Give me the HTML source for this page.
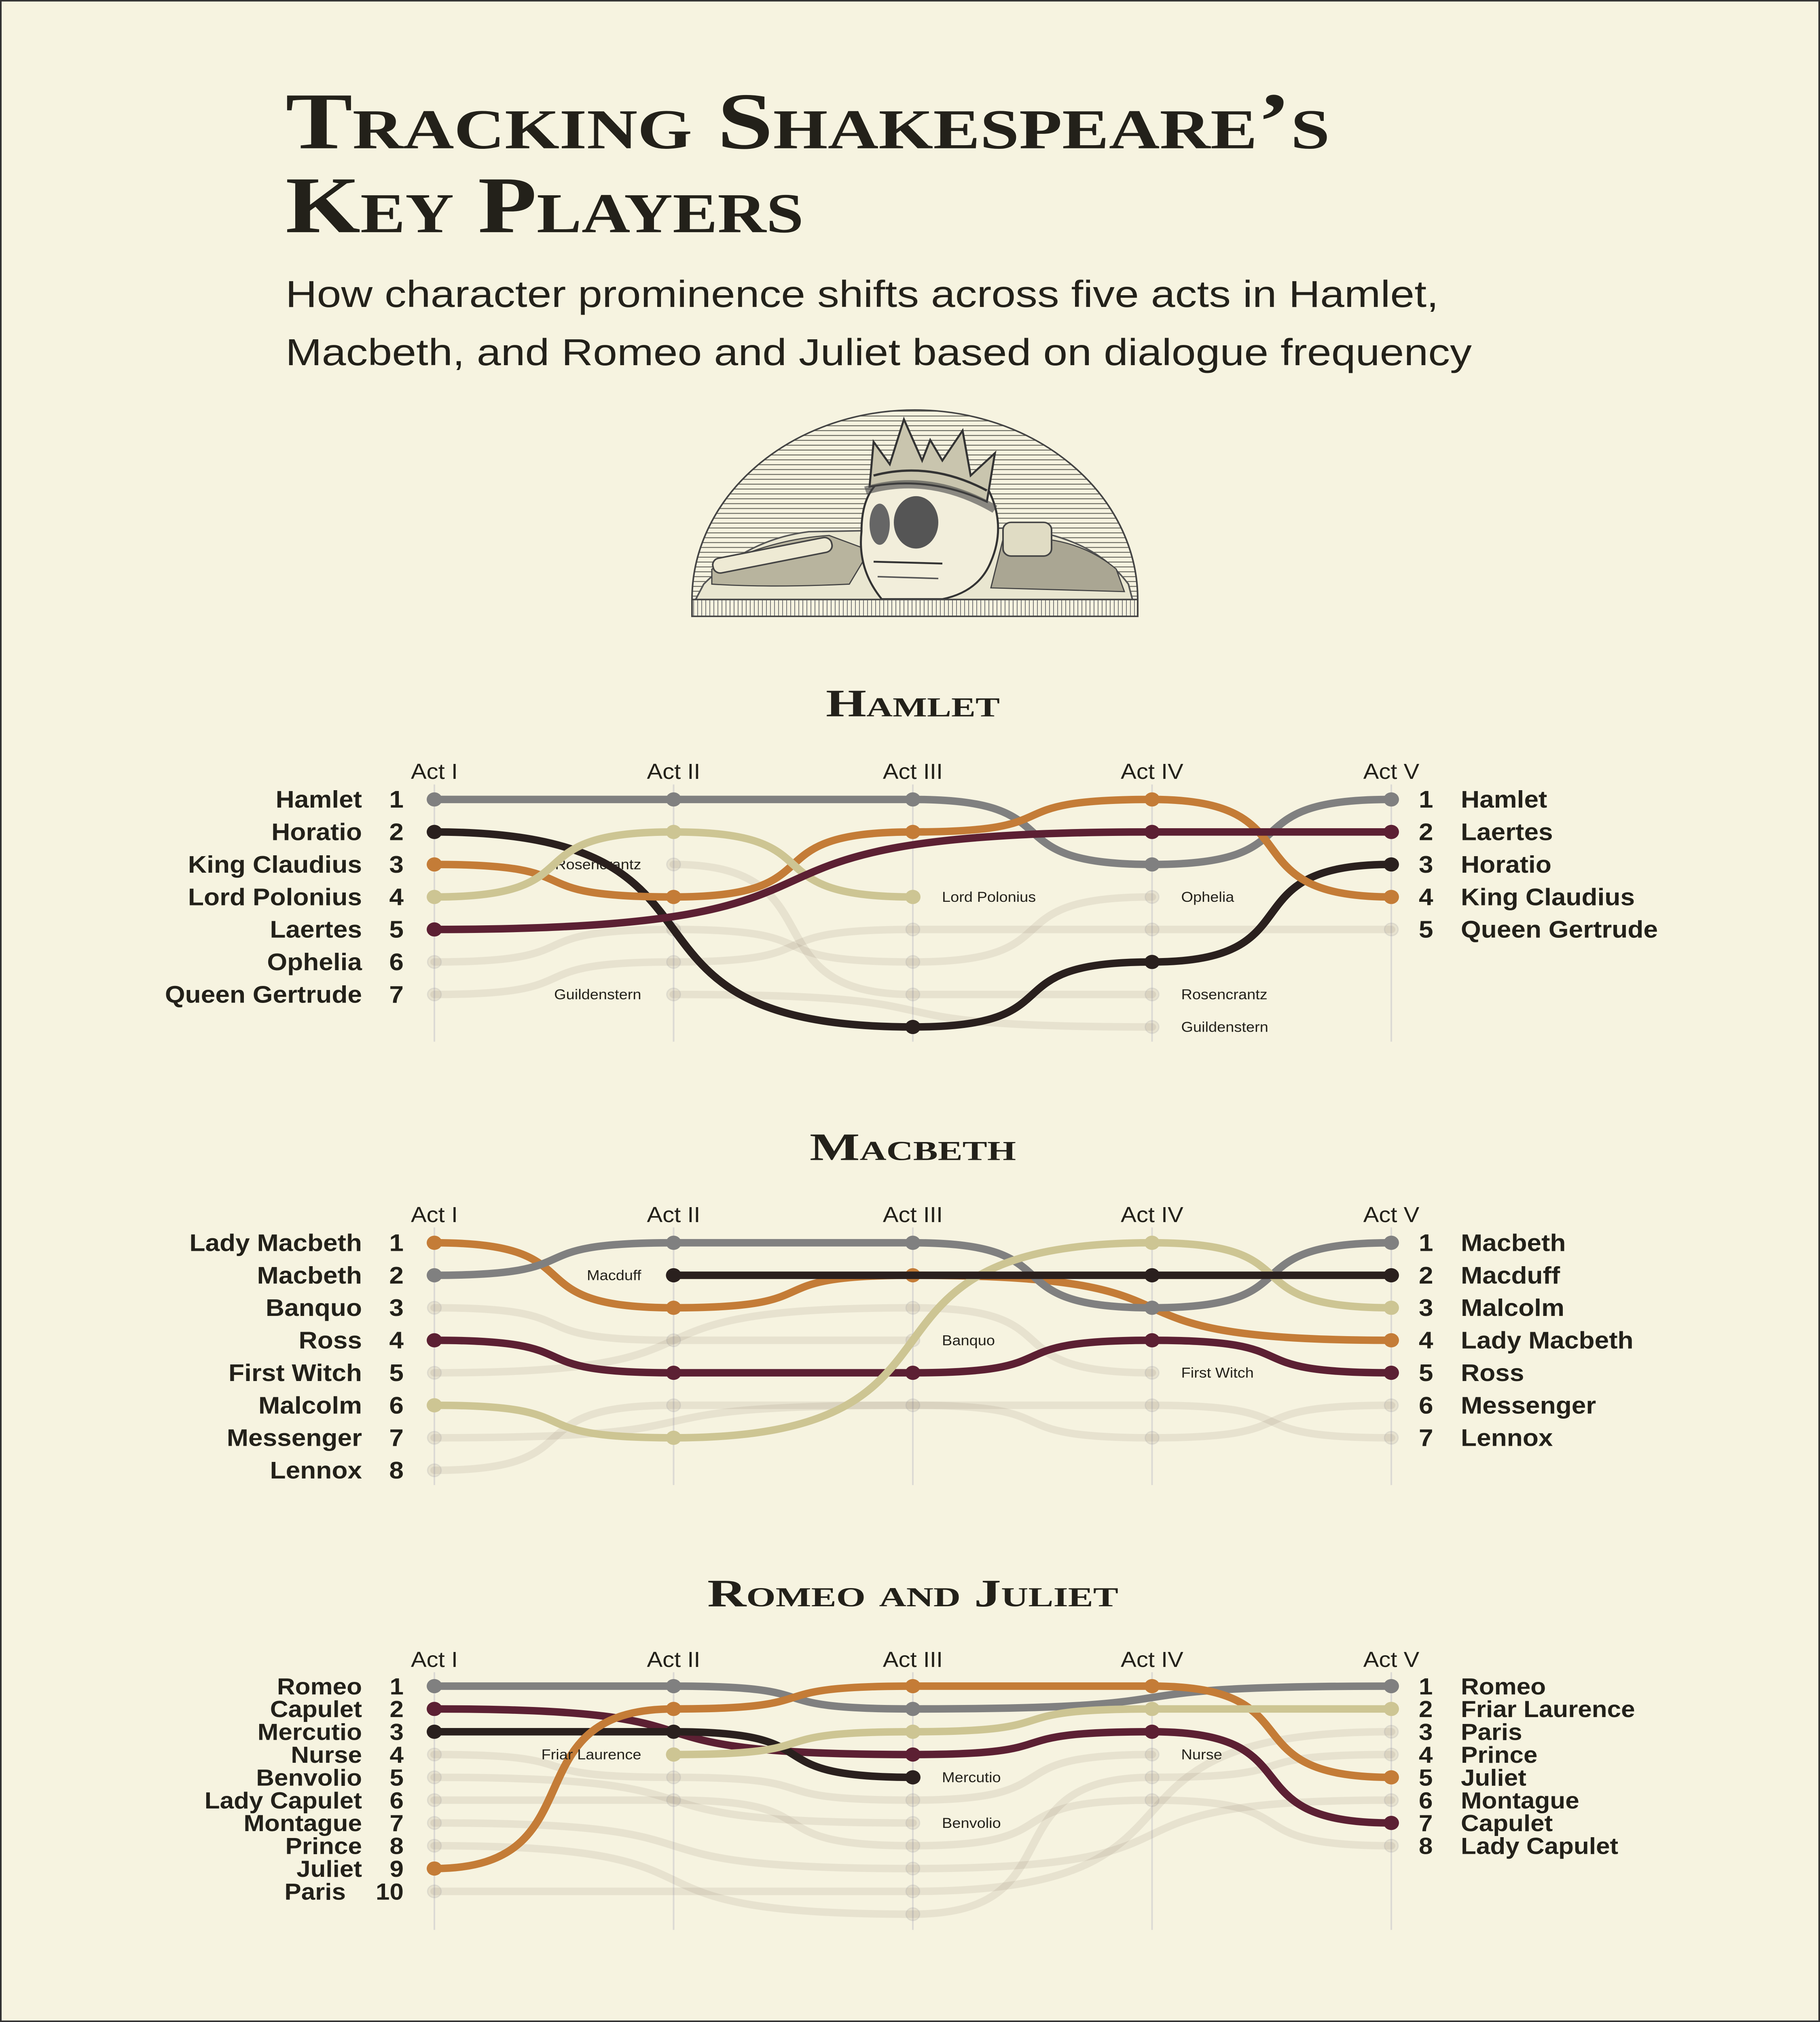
<!DOCTYPE html>
<html><head><meta charset="utf-8">
<style>
html,body{margin:0;padding:0;background:#f6f3e0;width:100%;height:100%;overflow:hidden;}
svg#root{display:block;width:100vw;height:100vh;}
.t{font-family:"Liberation Serif",serif;font-weight:bold;fill:#23211a;font-variant:small-caps;}
.s{font-family:"Liberation Sans",sans-serif;fill:#23211a;}
</style></head>
<body>
<svg id="root" xmlns="http://www.w3.org/2000/svg" viewBox="0 0 4500 5400" preserveAspectRatio="none">
<rect x="2" y="2" width="4496" height="5396" fill="#f6f3e0" stroke="#333" stroke-width="4"/>
<text class="t" x="706" y="396" font-size="215" textLength="2582" lengthAdjust="spacingAndGlyphs">Tracking Shakespeare’s</text>
<text class="t" x="706" y="620" font-size="215" textLength="1281" lengthAdjust="spacingAndGlyphs">Key Players</text>
<text class="s" x="706" y="820" font-size="100" textLength="2851" lengthAdjust="spacingAndGlyphs">How character prominence shifts across five acts in Hamlet,</text>
<text class="s" x="706" y="975" font-size="100" textLength="2933" lengthAdjust="spacingAndGlyphs">Macbeth, and Romeo and Juliet based on dialogue frequency</text>

<g>
<defs>
<clipPath id="dome"><path d="M1711 1601 A551 506 0 0 1 2813 1601 Z"/></clipPath>
<pattern id="hatch" width="20" height="13" patternUnits="userSpaceOnUse"><line x1="0" y1="6" x2="20" y2="6" stroke="#6a6a60" stroke-width="2.5"/></pattern>
<pattern id="vh" width="10" height="20" patternUnits="userSpaceOnUse"><line x1="5" y1="0" x2="5" y2="20" stroke="#777" stroke-width="2"/></pattern>
</defs>
<path d="M1711 1601 A551 506 0 0 1 2813 1601 Z" fill="url(#hatch)" stroke="#444" stroke-width="4"/>
<g clip-path="url(#dome)">
<path d="M1740 1560 Q1850 1440 2000 1420 L2500 1410 Q2700 1430 2790 1560 L2800 1601 L1720 1601 Z" fill="#e9e6d0" stroke="#555" stroke-width="4"/>
<path d="M1760 1520 Q1900 1440 2050 1430 L2150 1470 L2100 1560 Q1900 1570 1760 1560 Z" fill="#b8b49e" stroke="#444" stroke-width="3"/>
<path d="M2480 1440 Q2650 1420 2760 1520 L2780 1580 L2450 1570 Z" fill="#aaa693" stroke="#444" stroke-width="3"/>
<rect x="1760" y="1465" width="300" height="40" rx="18" fill="#eeead4" stroke="#444" stroke-width="4" transform="rotate(-12 1900 1485)"/>
<rect x="2480" y="1395" width="120" height="90" rx="20" fill="#e0dcc4" stroke="#444" stroke-width="4"/>
</g>
<path d="M2170 1290 Q2300 1240 2440 1300 Q2490 1400 2450 1500 Q2420 1580 2330 1600 L2180 1600 Q2120 1520 2130 1420 Q2130 1330 2170 1290 Z" fill="#f2eedb" stroke="#333" stroke-width="5"/>
<ellipse cx="2265" cy="1395" rx="55" ry="70" fill="#555"/>
<ellipse cx="2175" cy="1400" rx="25" ry="55" fill="#666"/>
<path d="M2160 1500 L2330 1505" stroke="#333" stroke-width="5"/>
<path d="M2170 1540 L2320 1545" stroke="#555" stroke-width="4"/>
<path d="M2150 1300 L2160 1180 L2200 1240 L2235 1120 L2280 1230 L2300 1175 L2330 1230 L2380 1150 L2400 1270 L2460 1210 L2440 1340 Q2300 1270 2150 1300 Z" fill="#c9c5ae" stroke="#333" stroke-width="5"/>
<path d="M2160 1270 Q2300 1230 2440 1310" stroke="#333" stroke-width="6" fill="none"/>
<path d="M2140 1310 Q2300 1260 2460 1360" stroke="#444" stroke-width="22" fill="none" opacity="0.6"/>
<rect x="1711" y="1601" width="1102" height="45" fill="url(#vh)" stroke="#444" stroke-width="4"/>
</g>
<g id="charts"></g>
</svg>
<script>
// ---------- Hamlet data ----------
const acts = ["Act I", "Act II", "Act III", "Act IV", "Act V"];
const hamletNames = ["Hamlet", "Horatio", "King Claudius", "Lord Polonius", "Laertes", "Ophelia", "Queen Gertrude", "Rosencrantz", "Guildenstern"];
const hamletRanks = [
  [1, 1, 1, 3, 1],
  [2, null, 8, 6, 3],
  [3, 4, 2, 1, 4],
  [4, 2, 4, null, null],
  [5, null, null, 2, 2],
  [6, 5, 6, 4, null],
  [7, 6, 5, 5, 5],
  [null, 3, 7, 7, null],
  [null, 7, null, 8, null]
];
const hamletHighlight = ["grey", "black", "orange", "tan", "maroon", null, null, null, null];
// ---------- Macbeth data ----------
const macbethNames = ["Lady Macbeth", "Macbeth", "Banquo", "Ross", "First Witch", "Malcolm", "Messenger", "Lennox", "Macduff"];
const macbethRanks = [
  [1, 3, 2, null, 4],
  [2, 1, 1, 3, 1],
  [3, 4, 4, null, null],
  [4, 5, 5, 4, 5],
  [5, null, 3, 5, null],
  [6, 7, null, 1, 3],
  [7, null, 6, 7, 6],
  [8, 6, null, 6, 7],
  [null, 2, null, 2, 2]
];
const macbethHighlight = ["orange", "grey", null, "maroon", null, "tan", null, null, "black"];
// ---------- Romeo and Juliet data ----------
const romeoNames = ["Romeo", "Capulet", "Mercutio", "Nurse", "Benvolio", "Lady Capulet", "Montague", "Prince", "Juliet", "Paris", "Friar Laurence"];
const romeoRanks = [
  [1, 1, 2, null, 1],
  [2, null, 4, 3, 7],
  [3, 3, 5, null, null],
  [4, 5, 6, 4, null],
  [5, null, 7, null, null],
  [6, 6, 8, 6, 8],
  [7, null, 9, null, 6],
  [8, null, 11, 5, 4],
  [9, 2, 1, 1, 5],
  [10, null, 10, null, 3],
  [null, 4, 3, 2, 2]
];
const romeoHighlight = ["grey", "maroon", "black", null, null, null, null, null, "orange", null, "tan"];

const palette = {grey: "#808080", black: "#2a201e", orange: "#c47c37", tan: "#cdc593", maroon: "#5c2033"};
const NS = "http://www.w3.org/2000/svg";
const root = document.getElementById("charts");
const K = 0.7;

function mk(tag, attrs, parent) {
  const e = document.createElementNS(NS, tag);
  for (const k in attrs) e.setAttribute(k, attrs[k]);
  parent.appendChild(e);
  return e;
}

function drawChart(cfg) {
  const g = mk("g", {}, root);
  
  
  const xScale = i => 1074 + i * 591.5;
  const yScale = r => cfg.y0 + (r - 1) * cfg.gap;

  const title = mk("text", {x: 2257, y: cfg.titleY, "text-anchor": "middle", "font-size": 104, "class": "t", textLength: cfg.titleW, lengthAdjust: "spacingAndGlyphs"}, g);
  title.textContent = cfg.title;
  
  

  acts.forEach((a, i) => {
    const t = mk("text", {x: xScale(i), y: cfg.actY, "text-anchor": "middle", "font-size": 58, "class": "s", fill: "#111"}, g);
    t.textContent = a;
    
    
    const l = mk("line", {x1: xScale(i), x2: xScale(i), y1: cfg.gridTop, y2: cfg.gridBot, stroke: "#dcdad4", "stroke-width": 4}, g);
    
    
  });

  const order = cfg.names.map((n, i) => i).sort((a, b) => (cfg.hl[a] ? 1 : 0) - (cfg.hl[b] ? 1 : 0));
  order.forEach(ci => {
    const ranks = cfg.ranks[ci];
    const hl = cfg.hl[ci];
    const col = hl ? palette[hl] : "rgba(120,110,90,0.12)";
    const pts = [];
    ranks.forEach((r, i) => { if (r != null) pts.push([xScale(i), yScale(r), i]); });
    let d = "";
    pts.forEach((p, k) => {
      if (k === 0) d += "M" + p[0] + " " + p[1];
      else {
        const q = pts[k - 1], dx = p[0] - q[0];
        d += " C" + (q[0] + K * dx) + " " + q[1] + " " + (p[0] - K * dx) + " " + p[1] + " " + p[0] + " " + p[1];
      }
    });
    const path = mk("path", {d: d, fill: "none", stroke: col, "stroke-width": 20, "stroke-linecap": "round"}, g);
    
    
    pts.forEach(p => {
      const c = mk("circle", {cx: p[0], cy: p[1], r: hl ? 19 : 17, fill: hl ? col : "rgba(120,110,90,0.12)", stroke: hl ? "none" : "rgba(150,150,160,0.18)", "stroke-width": 3}, g);
      
      
    });
    const first = pts[0], last = pts[pts.length - 1];
    if (first[2] !== 0) {
      const t = mk("text", {x: first[0] - 80, y: first[1] + 13, "text-anchor": "end", "font-size": 38, "class": "s", fill: "#888"}, g);
      t.textContent = cfg.names[ci];
      
      
    }
    if (last[2] !== 4) {
      const t = mk("text", {x: last[0] + 72, y: last[1] + 13, "text-anchor": "start", "font-size": 38, "class": "s", fill: "#888"}, g);
      t.textContent = cfg.names[ci];
      
      
    }
  });

  cfg.names.forEach((n, ci) => {
    const r0 = cfg.ranks[ci][0], r4 = cfg.ranks[ci][4];
    if (r0 != null) {
      const y = yScale(r0) + 22;
      const num = mk("text", {x: 998, y: y, "text-anchor": "end", "font-size": cfg.fs, "font-weight": "bold", "class": "s"}, g);
      num.textContent = r0;
      
      
      const nm = mk("text", {x: r0 >= 10 ? 855 : 895, y: y, "text-anchor": "end", "font-size": cfg.fs, "font-weight": "bold", "class": "s"}, g);
      nm.textContent = n;
      
      
    }
    if (r4 != null) {
      const y = yScale(r4) + 22;
      const num = mk("text", {x: 3508, y: y, "font-size": cfg.fs, "font-weight": "bold", "class": "s"}, g);
      num.textContent = r4;
      
      
      const nm = mk("text", {x: 3612, y: y, "font-size": cfg.fs, "font-weight": "bold", "class": "s"}, g);
      nm.textContent = n;
      
      
    }
  });
}

drawChart({slug: "hamlet", title: "Hamlet", titleW: 430, titleY: 1913, actY: 2080, gridTop: 2095, gridBot: 2782, y0: 2135, gap: 86.8, fs: 64, names: hamletNames, ranks: hamletRanks, hl: hamletHighlight});
drawChart({slug: "macbeth", title: "Macbeth", titleW: 510, titleY: 3098, actY: 3264, gridTop: 3278, gridBot: 3966, y0: 3319, gap: 86.8, fs: 64, names: macbethNames, ranks: macbethRanks, hl: macbethHighlight});
drawChart({slug: "romeo-juliet", title: "Romeo and Juliet", titleW: 1016, titleY: 4290, actY: 4452, gridTop: 4466, gridBot: 5154, y0: 4503, gap: 60.9, fs: 62, names: romeoNames, ranks: romeoRanks, hl: romeoHighlight});
</script>
</body></html>
